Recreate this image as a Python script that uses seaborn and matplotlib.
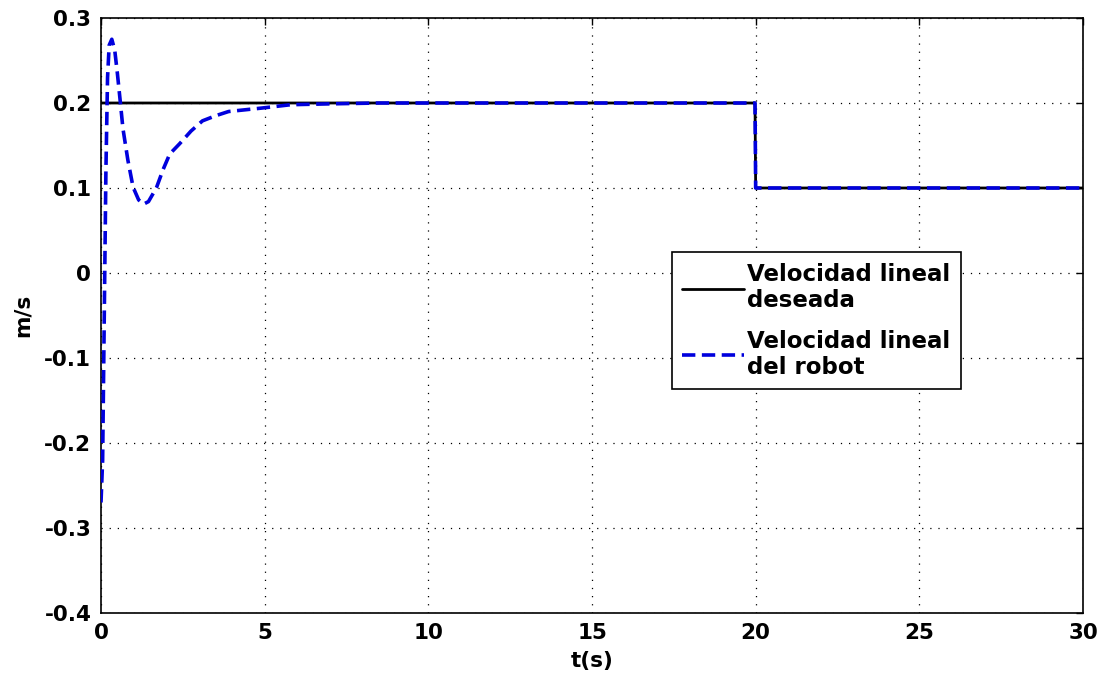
import numpy as np
import pandas as pd
import matplotlib
matplotlib.use("Agg")
import matplotlib.pyplot as plt
import seaborn as sns
from matplotlib.ticker import FuncFormatter

# Reference (desired) linear velocity: step from 0.2 m/s to 0.1 m/s at t = 20 s
t_desired = [0.0, 19.98, 20.0, 30.0]
v_desired = [0.2, 0.2, 0.1, 0.1]

# Measured linear velocity of the robot
t_robot = [0.0, 0.05, 0.1, 0.15, 0.2, 0.25, 0.33, 0.42, 0.5, 0.58, 0.67,
           0.82, 0.98, 1.15, 1.3, 1.45, 1.6, 1.7, 1.9, 2.1, 2.4, 2.75,
           3.1, 3.5, 3.9, 4.4, 4.9, 5.8, 7.0, 8.5, 19.98, 20.0, 30.0]
v_robot = [-0.27, -0.22, -0.05, 0.12, 0.23, 0.268, 0.275, 0.262, 0.235, 0.205, 0.17,
           0.133, 0.101, 0.086, 0.081, 0.084, 0.094, 0.101, 0.122, 0.14, 0.152, 0.167,
           0.179, 0.185, 0.19, 0.192, 0.194, 0.198, 0.199, 0.2, 0.2, 0.1, 0.1]

label_desired = "Velocidad lineal\ndeseada"
label_robot = "Velocidad lineal\ndel robot"

x_ticks = [0, 5, 10, 15, 20, 25, 30]
y_ticks = [-0.4, -0.3, -0.2, -0.1, 0.0, 0.1, 0.2, 0.3]

sns.set_style("white")
plt.rcParams["font.family"] = ["DejaVu Sans"]
plt.rcParams["font.weight"] = "bold"
plt.rcParams["axes.unicode_minus"] = False
plt.rcParams["text.color"] = "black"
plt.rcParams["axes.labelcolor"] = "black"
plt.rcParams["xtick.color"] = "black"
plt.rcParams["ytick.color"] = "black"

fig = plt.figure(figsize=(11.06, 6.80), dpi=100)
ax = fig.add_axes([101 / 1106, 1 - 613 / 680, (1083 - 101) / 1106, (613 - 18) / 680])

sns.lineplot(x=t_desired, y=v_desired, ax=ax, color="black", linewidth=2.0,
             label=label_desired, estimator=None, sort=False, zorder=3)
sns.lineplot(x=t_robot, y=v_robot, ax=ax, color="#0000dd", linewidth=2.6,
             label=label_robot, estimator=None, sort=False, zorder=4)
ax.lines[1].set_linestyle((0, (3.7, 1.8)))

ax.set_xlim(0, 30)
ax.set_ylim(-0.4, 0.3)
ax.set_xticks(x_ticks)
ax.set_yticks(y_ticks)
ax.yaxis.set_major_formatter(FuncFormatter(lambda v, p: "0" if abs(v) < 1e-9 else f"{v:.1f}"))

ax.grid(True, color="black", linestyle=(0, (1, 5.5)), linewidth=0.9)
ax.tick_params(direction="in", length=5, width=1, top=True, right=True,
               labelsize=15.5, pad=7, colors="black")
for lbl in ax.get_xticklabels() + ax.get_yticklabels():
    lbl.set_fontweight("bold")
for s in ax.spines.values():
    s.set_visible(True)
    s.set_color("black")
    s.set_linewidth(1.2)

ax.set_xlabel("t(s)", fontsize=15.5, fontweight="bold", labelpad=6, color="black")
ax.set_ylabel("m/s", fontsize=15.5, fontweight="bold", labelpad=8, color="black")

leg = ax.legend(loc="upper left", bbox_to_anchor=(0.581, 0.606), borderaxespad=0,
                fontsize=16.5, handlelength=2.7, handletextpad=0.15,
                borderpad=0.45, labelspacing=0.75, fancybox=False, frameon=True)
leg.get_frame().set_edgecolor("black")
leg.get_frame().set_linewidth(1.2)
leg.get_frame().set_alpha(1)
for txt in leg.get_texts():
    txt.set_fontweight("bold")
    txt.set_color("black")

fig.savefig("out.png", dpi=100, facecolor="white")
